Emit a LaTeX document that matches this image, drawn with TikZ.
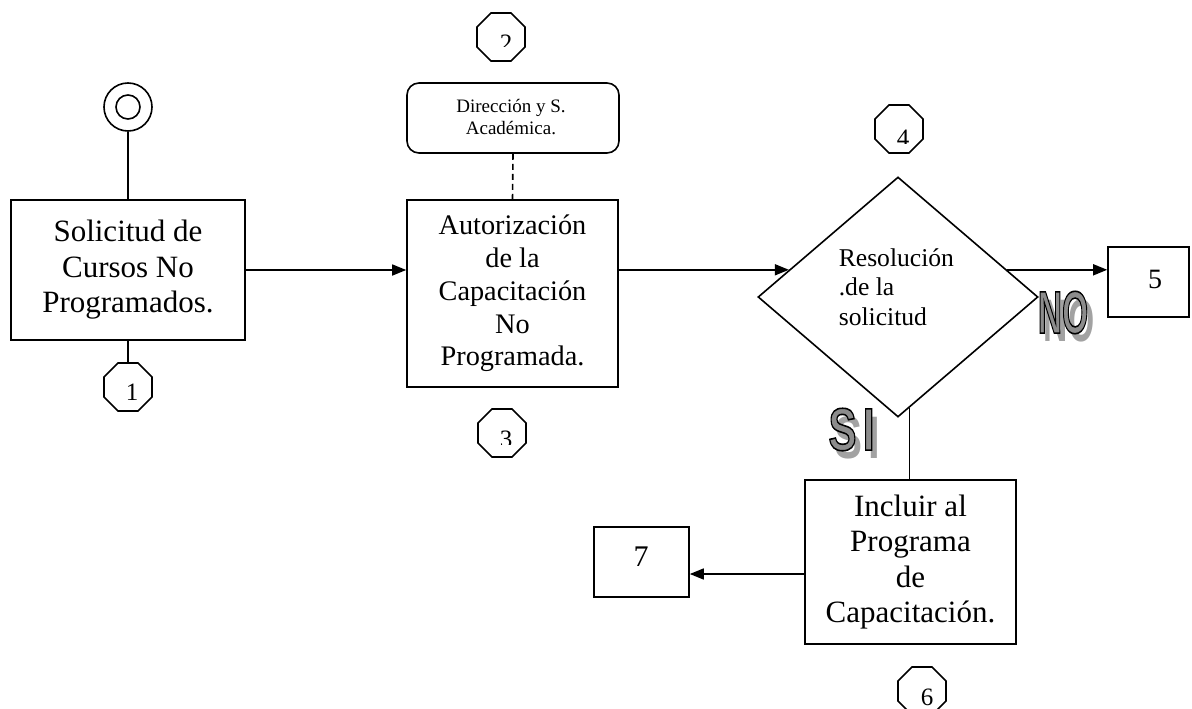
\documentclass[tikz,border=0pt]{standalone}
\usepackage{fontspec}
\setmainfont{Liberation Serif}
\setsansfont{Liberation Sans}
\usepackage{graphicx}
\usetikzlibrary{shapes.geometric,arrows.meta,calc}

\definecolor{wordgray}{HTML}{8C8C8C}
\definecolor{shadowgray}{HTML}{A2A2A2}

% grey letters stroked with a black rim (text render mode 2)
\newcommand{\rimmed}[1]{%
  \special{pdf:literal direct 2 Tr 1.6 w 0 G}#1\special{pdf:literal direct 0 Tr}}
% word with a drop shadow: x-scale, spacing between letters, letters
\newcommand{\shadowword}[2]{%
  \rlap{\hspace{6pt}\raisebox{-8pt}{\color{shadowgray}#1{#2}}}%
  \rimmed{#1{#2}}}

\begin{document}
\begin{tikzpicture}[x=1pt,y=-1pt,line width=1.6pt,
  procbox/.style={draw, rectangle, inner sep=0pt, align=center},
  octa/.style={draw, regular polygon, regular polygon sides=8,
               minimum size=52pt, inner sep=0pt},
  digitstyle/.style={font=\fontsize{25}{25}\selectfont, inner sep=0pt, anchor=base},
  banner/.style={font=\fontsize{60}{60}\selectfont\sffamily\bfseries,
                 inner sep=0pt, text=wordgray},
  arr/.style={-{Triangle[length=14pt,width=11pt]}}]

\useasboundingbox (0,0) rectangle (1192,709);

% start symbol
\node[draw, circle, minimum size=48pt, inner sep=0pt] (start) at (128,107) {};
\node[draw, circle, minimum size=24pt, inner sep=0pt] (starti) at (128,107) {};

% process boxes
\node[procbox, minimum width=234pt, minimum height=140pt,
      font=\fontsize{31}{35.5}\selectfont] (b1) at (128,270)
      {Solicitud de\\Cursos No\\Programados.};
\node[procbox, minimum width=211pt, minimum height=187pt,
      font=\fontsize{28.3}{32.75}\selectfont] (b2) at (512.5,293.5)
      {Autorización\\de la\\Capacitación\\No\\Programada.};
\node[draw, rounded corners=12pt, minimum width=212pt, minimum height=70pt,
      inner sep=0pt] (dir) at (513,118) {};
\node[inner sep=0pt, align=center, font=\fontsize{19}{22}\selectfont]
      (dirtext) at (511,117) {Dirección y S.\\Académica.};
\node[draw, diamond, minimum width=280pt, minimum height=240pt,
      inner sep=0pt] (dia) at (898,297) {};
\node[inner sep=0pt, align=left, anchor=west,
      font=\fontsize{25.6}{29.5}\selectfont] (diatext) at (838,287)
      {Resolución\\.de la\\solicitud};
\node[procbox, minimum width=81pt, minimum height=70pt] (b5) at (1148.5,282) {};
\node[inner sep=0pt, font=\fontsize{28}{28}\selectfont] (b5text) at (1155,279) {5};
\node[procbox, minimum width=211pt, minimum height=164pt,
      font=\fontsize{31}{35.3}\selectfont] (inc) at (910.5,562)
      {Incluir al\\Programa\\de\\Capacitación.};
\node[procbox, minimum width=95pt, minimum height=70pt] (b7) at (641.5,562) {};
\node[inner sep=0pt, font=\fontsize{30}{30}\selectfont] (b7text) at (641,557) {7};

% connector symbols
\node[octa] (o1) at (128,387) {};
\node[octa] (o2) at (501,37) {};
\node[octa] (o3) at (502,433) {};
\node[octa] (o4) at (899,129) {};
\node[octa] (o6) at (922,691) {};

\node[digitstyle] (d1) at (132,400) {1};
\begin{scope}
  \clip (470,0) rectangle (540,47);
  \node[digitstyle] (d2) at (506,52) {2};
\end{scope}
\begin{scope}
  \clip (470,400) rectangle (540,444);
  \node[digitstyle] (d3) at (506,447) {3};
\end{scope}
\begin{scope}
  \clip (870,100) rectangle (930,143);
  \node[digitstyle] (d4) at (903,146) {4};
\end{scope}
\node[digitstyle] (d6) at (927,705) {6};

% connectors
\draw (start.south) -- (b1.north);
\draw (b1.south) -- (o1.north);
\draw[dash pattern=on 6pt off 4pt] (dir.south) -- (b2.north);
\draw[arr] (b1.east) -- (b1.east -| b2.west);
\draw[arr] (b2.east |- dia.166) -- (dia.166);
\draw[arr] (dia.14) -- (dia.14 -| b5.west);
\draw (dia.-84) -- (dia.-84 |- inc.north);
\draw[arr] ([yshift=-12pt]inc.west) -- ([yshift=-12pt]inc.west -| b7.east);

% decision labels
\node[banner] (no) at (1063,316.5) {\shadowword{\scalebox{0.56}[1]}{NO}};
\node[banner] (si) at (851.5,433.5) {\shadowword{\scalebox{0.7}[1]}{S\hspace{9pt}I}};

\end{tikzpicture}
\end{document}
